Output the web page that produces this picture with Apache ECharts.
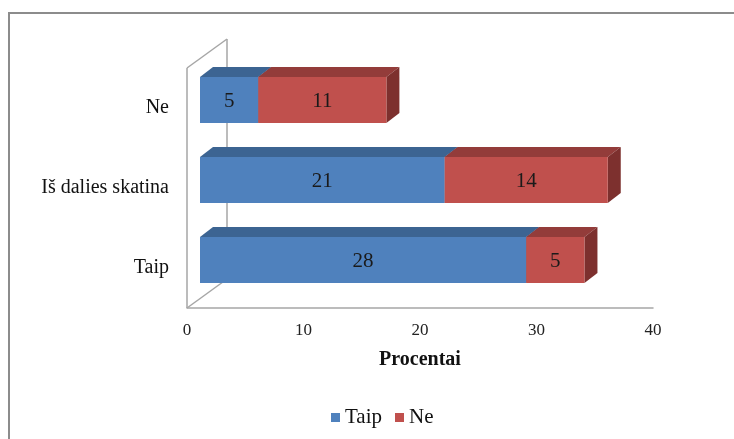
<!DOCTYPE html>
<html>
<head>
<meta charset="utf-8">
<style>
  html, body { margin: 0; padding: 0; background: #ffffff; }
  #chart { width: 734px; height: 439px; }
</style>
<script src="https://cdn.jsdelivr.net/npm/echarts@6/dist/echarts.min.js"></script>
</head>
<body>
<div id="chart"></div>
<script>
// Survey answers, percent of respondents (bottom to top)
const categories = ['Taip', 'Iš dalies skatina', 'Ne'];
const taipValues = [28, 21, 5];
const neValues = [5, 14, 11];
const axisTicks = [0, 10, 20, 30, 40];
const seriesNames = ['Taip', 'Ne'];

const FONT = 'Liberation Serif';

// Colours for each bar face: front, top, side
const palette = {
  Taip: { front: '#4F81BD', top: '#3C6492', side: '#34557D' },
  Ne:   { front: '#C0504D', top: '#933C3A', side: '#7D302E' }
};

// Depth offsets for the pseudo-3D look
const WALL_DX = 40, WALL_DY = -29;   // back wall relative to front plane
const BAR_DX = 13, BAR_DY = -8;      // bar front face relative to front plane
const TOP_DX = 13, TOP_DY = -10;     // bar thickness

// Segment rows: [categoryIndex, start, end]
const taipRows = categories.map((c, i) => [i, 0, taipValues[i]]);
const neRows = categories.map((c, i) => [i, taipValues[i], taipValues[i] + neValues[i]]);

function boxRenderer(colors) {
  return function (params, api) {
    const cat = api.value(0);
    const v0 = api.value(1), v1 = api.value(2);
    const p0 = api.coord([v0, cat]);
    const p1 = api.coord([v1, cat]);
    const band = api.size([0, 1])[1];
    const h = band * 0.575;
    const x = p0[0] + BAR_DX;
    const y = p0[1] + BAR_DY - h / 2;
    const w = p1[0] - p0[0];
    return {
      type: 'group',
      children: [
        {
          type: 'polygon',
          shape: { points: [[x, y], [x + w, y], [x + w + TOP_DX, y + TOP_DY], [x + TOP_DX, y + TOP_DY]] },
          style: { fill: colors.top }
        },
        {
          type: 'polygon',
          shape: { points: [[x + w, y], [x + w + TOP_DX, y + TOP_DY], [x + w + TOP_DX, y + h + TOP_DY], [x + w, y + h]] },
          style: { fill: colors.side }
        },
        {
          type: 'rect',
          shape: { x: x, y: y, width: w, height: h },
          style: { fill: colors.front }
        },
        {
          type: 'text',
          style: {
            x: x + w / 2, y: y + h / 2 + 1,
            text: String(Math.round(v1 - v0)),
            align: 'center', verticalAlign: 'middle',
            fontFamily: FONT, fontSize: 21, fill: '#1a1a1a'
          }
        }
      ]
    };
  };
}

// Back wall and floor edges of the 3D frame
function frameRenderer(params, api) {
  const cs = params.coordSys;
  const left = cs.x, top = cs.y, bottom = cs.y + cs.height;
  const st = { stroke: '#A6A6A6', lineWidth: 1.5, fill: null };
  return {
    type: 'group',
    children: [
      { type: 'line', shape: { x1: left, y1: top, x2: left + WALL_DX, y2: top + WALL_DY }, style: st },
      { type: 'line', shape: { x1: left + WALL_DX, y1: top + WALL_DY, x2: left + WALL_DX, y2: bottom + WALL_DY }, style: st },
      { type: 'line', shape: { x1: left, y1: bottom, x2: left + WALL_DX, y2: bottom + WALL_DY }, style: st },
      { type: 'line', shape: { x1: left, y1: top, x2: left, y2: bottom }, style: st }
    ]
  };
}

const chart = echarts.init(document.getElementById('chart'), null, { renderer: 'canvas' });

chart.setOption({
  backgroundColor: '#ffffff',
  animation: false,
  textStyle: { fontFamily: FONT },
  graphic: [{
    type: 'rect',
    shape: { x: 9, y: 13, width: 760, height: 460 },
    style: { fill: null, stroke: '#8C8C8C', lineWidth: 2 },
    silent: true, z: 100
  }],
  grid: { left: 187, right: 81, top: 68, bottom: 131 },
  xAxis: {
    type: 'value',
    min: axisTicks[0], max: axisTicks[axisTicks.length - 1], interval: 10,
    name: 'Procentai',
    nameLocation: 'middle',
    nameGap: 42,
    nameTextStyle: { fontFamily: FONT, fontSize: 20, fontWeight: 'bold', color: '#111' },
    axisLine: { show: true, lineStyle: { color: '#A6A6A6', width: 1.5 } },
    axisTick: { show: false },
    splitLine: { show: false },
    axisLabel: { fontFamily: FONT, fontSize: 17, color: '#222', margin: 14 }
  },
  yAxis: {
    type: 'category',
    data: categories,
    axisLine: { show: false },
    axisTick: { show: false },
    axisLabel: { fontFamily: FONT, fontSize: 20, color: '#111', margin: 18 }
  },
  legend: {
    data: seriesNames,
    bottom: 6,
    left: 326,
    icon: 'rect',
    itemWidth: 9, itemHeight: 9,
    itemGap: 13,
    textStyle: { fontFamily: FONT, fontSize: 21, color: '#111' }
  },
  series: [
    {
      type: 'custom', name: 'frame', silent: true, z: 1,
      renderItem: frameRenderer, data: [[0]], clip: false
    },
    {
      type: 'custom', name: seriesNames[0], z: 2,
      itemStyle: { color: palette.Taip.front },
      renderItem: boxRenderer(palette.Taip),
      encode: { x: [1, 2], y: 0 },
      data: taipRows, clip: false
    },
    {
      type: 'custom', name: seriesNames[1], z: 3,
      itemStyle: { color: palette.Ne.front },
      renderItem: boxRenderer(palette.Ne),
      encode: { x: [1, 2], y: 0 },
      data: neRows, clip: false
    }
  ]
});
</script>
</body>
</html>
